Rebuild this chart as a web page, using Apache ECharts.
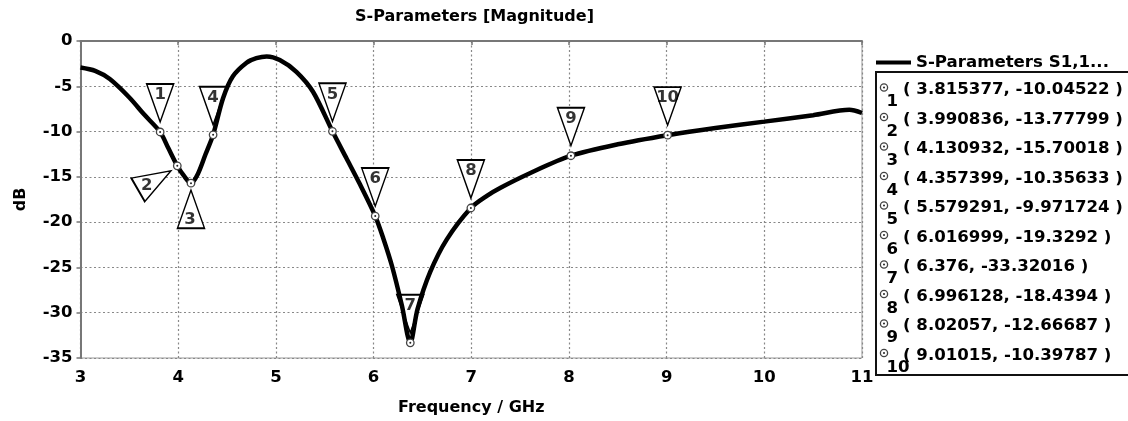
<!DOCTYPE html>
<html>
<head>
<meta charset="utf-8">
<script src="https://cdn.jsdelivr.net/npm/echarts@6/dist/echarts.min.js"></script>
<style>
html,body{margin:0;padding:0;background:#fff;}
#chart{width:1128px;height:421px;}
</style>
</head>
<body>
<div id="chart"></div>
<script>
// ---- data ----
const freq = [3.0, 3.15, 3.3, 3.5, 3.65, 3.815377, 3.9, 3.990836, 4.06, 4.130932, 4.2, 4.28, 4.357399, 4.46, 4.56, 4.7, 4.8, 4.906, 5.04, 5.21, 5.38, 5.579291, 5.72, 5.85, 6.016999, 6.1, 6.19, 6.29, 6.376, 6.45, 6.58, 6.75, 6.996128, 7.16, 7.3, 7.6, 8.02057, 8.5, 9.01015, 9.5, 10.0, 10.5, 10.87, 11.0];
const dB   = [-2.93, -3.3, -4.2, -6.24, -8.1, -10.04522, -11.85, -13.77799, -14.9, -15.70018, -14.7, -12.5, -10.35633, -6.3, -3.9, -2.4, -1.9, -1.7, -2.1, -3.4, -5.6, -9.971724, -12.9, -15.6, -19.3292, -21.8, -24.9, -29.2, -33.32016, -29.6, -25.5, -21.9, -18.4394, -17.1, -16.2, -14.6, -12.66687, -11.4, -10.39787, -9.6, -8.9, -8.2, -7.6, -7.95];

const markerFreq = [3.815377, 3.990836, 4.130932, 4.357399, 5.579291, 6.016999, 6.376, 6.996128, 8.02057, 9.01015];
const markerDb   = [-10.04522, -13.77799, -15.70018, -10.35633, -9.971724, -19.3292, -33.32016, -18.4394, -12.66687, -10.39787];
const markerNames = ['1','2','3','4','5','6','7','8','9','10'];
const markerKind  = ['down','rot','up','down','down','down','down','down','down','down'];

const seriesName = 'S-Parameters S1,1...';
const chartTitle = 'S-Parameters [Magnitude]';
const xName = 'Frequency / GHz';
const yName = 'dB';

// ---- styles ----
const FONT = 'DejaVu Sans';
const DOWN = 'path://M0,0L27,0L13.5,38Z';
const UP = 'path://M13.5,0L27,38L0,38Z';
const kindStyle = {
  down: {symbol: DOWN, rotate: 0, offset: [0, -29], labelOffset: [0, -37]},
  up:   {symbol: UP, rotate: 0, offset: [0, 26], labelOffset: [-1, 37]},
  rot:  {symbol: DOWN, rotate: 120, offset: [-22.8, 14.5], labelOffset: [-30.5, 20]}
};

const curve = freq.map((f, i) => [f, dB[i]]);
const mpts = markerFreq.map((f, i) => [f, markerDb[i]]);

const triData = mpts.map((p, i) => {
  const k = kindStyle[markerKind[i]];
  return {value: p, symbol: k.symbol, symbolRotate: k.rotate, symbolOffset: k.offset};
});
const labelData = mpts.map((p, i) => {
  const k = kindStyle[markerKind[i]];
  return {value: p, label: {show: true, formatter: markerNames[i], offset: k.labelOffset}};
});

// legend box graphics
const boxX = 876, boxY = 72, rowY0 = 90, rowStep = 29.5;
const BOXFONT = 'bold 16.6px "DejaVu Sans"';
const boxChildren = [{
  type: 'rect', shape: {x: boxX, y: boxY, width: 270, height: 303},
  style: {fill: '#fff', stroke: '#111', lineWidth: 2}
}];
markerFreq.forEach((f, i) => {
  const y = rowY0 + rowStep * i;
  boxChildren.push({type: 'circle', shape: {cx: 884, cy: y - 2.5, r: 3.6}, style: {fill: '#fff', stroke: '#444', lineWidth: 1.3}});
  boxChildren.push({type: 'circle', shape: {cx: 884, cy: y - 2.5, r: 1}, style: {fill: '#222'}});
  boxChildren.push({type: 'text', x: 886.5, y: y + 12, style: {text: markerNames[i], font: BOXFONT, fill: '#000', textAlign: 'left', textVerticalAlign: 'middle'}});
  boxChildren.push({type: 'text', x: 903, y: y, style: {text: '( ' + String(f) + ', ' + String(markerDb[i]) + ' )', font: BOXFONT, fill: '#000', textAlign: 'left', textVerticalAlign: 'middle'}});
});

const chart = echarts.init(document.getElementById('chart'), null, {renderer: 'canvas'});
chart.setOption({
  animation: false,
  backgroundColor: '#fff',
  textStyle: {fontFamily: FONT},
  title: {
    text: chartTitle, left: 355, top: 9, padding: 0,
    textStyle: {fontFamily: FONT, fontWeight: 'bold', fontSize: 16, color: '#000'}
  },
  legend: {
    data: [seriesName], left: 871, top: 49, icon: 'rect', itemWidth: 35, itemHeight: 4,
    textStyle: {fontFamily: FONT, fontWeight: 'bold', fontSize: 16.6, color: '#000'}
  },
  grid: {left: 80.5, right: 266, top: 41, bottom: 62, show: true, borderColor: '#999', borderWidth: 1, backgroundColor: 'transparent'},
  xAxis: {
    type: 'value', min: 3, max: 11, interval: 1,
    name: xName, nameLocation: 'middle', nameGap: 42,
    nameTextStyle: {fontFamily: FONT, fontWeight: 'bold', fontSize: 16, color: '#000'},
    axisLine: {show: true, lineStyle: {color: '#777', width: 2}},
    axisTick: {show: true, inside: false, length: 4, lineStyle: {color: '#777', width: 1.5}},
    axisLabel: {fontFamily: FONT, fontWeight: 'bold', fontSize: 16.5, color: '#000', margin: 11},
    splitLine: {show: true, lineStyle: {color: '#888', type: [2, 2.5], width: 1.2}}
  },
  yAxis: {
    type: 'value', min: -35, max: 0, interval: 5,
    name: yName, nameLocation: 'middle', nameGap: 52, nameRotate: 90,
    nameTextStyle: {fontFamily: FONT, fontWeight: 'bold', fontSize: 16, color: '#000'},
    axisLine: {show: true, lineStyle: {color: '#777', width: 2}},
    axisTick: {show: true, inside: false, length: 4, lineStyle: {color: '#777', width: 1.5}},
    axisLabel: {fontFamily: FONT, fontWeight: 'bold', fontSize: 16.5, color: '#000', margin: 8},
    splitLine: {show: true, lineStyle: {color: '#888', type: [2, 2.5], width: 1.2}}
  },
  graphic: [{type: 'group', children: boxChildren}],
  series: [
    {
      name: 'triangles', type: 'scatter', data: triData, z: 2, symbolSize: [27, 38],
      itemStyle: {color: '#fff', borderColor: '#000', borderWidth: 1.6, opacity: 1},
      silent: true
    },
    {
      name: seriesName, type: 'line', data: curve, z: 3, smooth: 0.3, showSymbol: false, symbol: 'none',
      lineStyle: {color: '#000', width: 4.5}, itemStyle: {color: '#000'}
    },
    {
      name: 'markers', type: 'scatter', data: mpts, z: 4, symbol: 'circle', symbolSize: 7.5,
      itemStyle: {color: '#fff', borderColor: '#444', borderWidth: 1.3, opacity: 1}
    },
    {
      name: 'markerDots', type: 'scatter', data: mpts, z: 5, symbol: 'circle', symbolSize: 2,
      itemStyle: {color: '#222', opacity: 1}
    },
    {
      name: 'markerLabels', type: 'scatter', data: labelData, z: 6, symbol: 'circle', symbolSize: 1,
      itemStyle: {color: 'rgba(0,0,0,0)'},
      label: {show: true, position: 'inside', fontFamily: FONT, fontWeight: 'bold', fontSize: 16.5, color: '#000'}
    }
  ]
});
</script>
</body>
</html>
